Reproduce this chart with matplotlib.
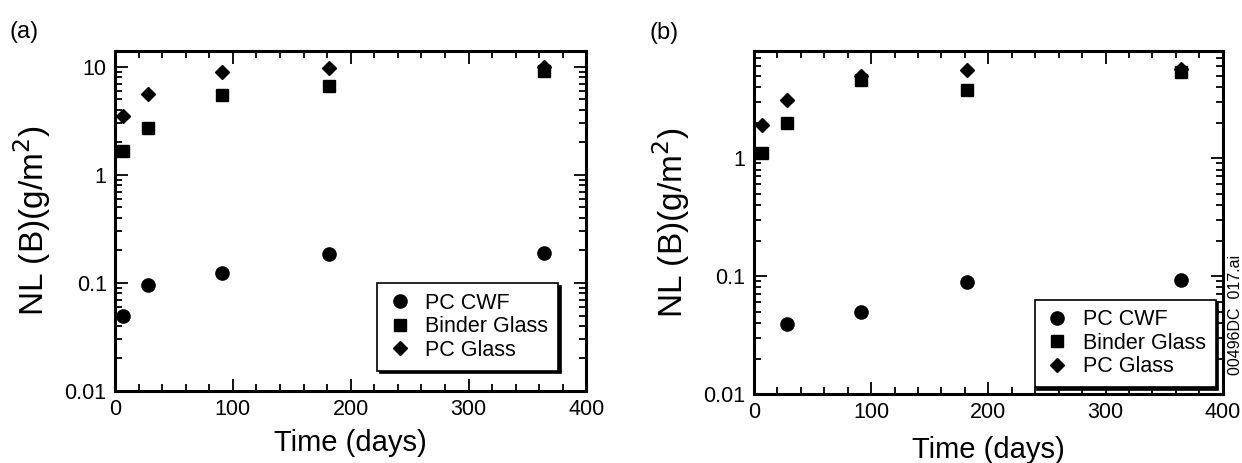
import matplotlib
matplotlib.use("Agg")
import matplotlib.pyplot as plt
from matplotlib.ticker import MultipleLocator, LogLocator, FixedLocator, NullFormatter

plt.rcParams['font.family'] = ['Liberation Sans', 'DejaVu Sans']

# Panel (a) data
days_a = [7, 28, 91, 182, 364]
cwf_a = [0.050, 0.096, 0.124, 0.184, 0.189]
binder_a = [1.68, 2.75, 5.5, 6.7, 9.2]
pcglass_a = [3.48, 5.6, 9.0, 9.7, 10.0]

# Panel (b) data
days_b_cwf = [28, 91, 182, 364]
cwf_b = [0.0394, 0.0496, 0.0884, 0.093]
days_b = [7, 28, 91, 182, 364]
binder_b = [1.10, 1.97, 4.6, 3.77, 5.35]
pcglass_b = [1.89, 3.08, 5.0, 5.53, 5.71]

series_labels = ["PC CWF", "Binder Glass", "PC Glass"]
xticks = [0, 100, 200, 300, 400]
yticks = [0.01, 0.1, 1, 10]
ytick_labels = ["0.01", "0.1", "1", "10"]

fig = plt.figure(figsize=(12.42, 4.63), dpi=100)
ax_a = fig.add_axes([0.0926, 0.1555, 0.3795, 0.734])
ax_b = fig.add_axes([0.607, 0.149, 0.3775, 0.741])


def style(ax, ymax, xpad):
    ax.set_yscale('log')
    ax.set_xlim(0, 400)
    ax.set_ylim(0.01, ymax)
    ax.xaxis.set_major_locator(FixedLocator(xticks))
    ax.xaxis.set_minor_locator(MultipleLocator(20))
    ax.yaxis.set_major_locator(FixedLocator(yticks))
    ax.set_yticklabels(ytick_labels)
    ax.set_xticklabels([str(t) for t in xticks])
    ax.yaxis.set_minor_locator(LogLocator(base=10, subs=range(2, 10)))
    ax.yaxis.set_minor_formatter(NullFormatter())
    ax.tick_params(which='both', direction='in', top=True, right=True,
                   labelsize=15.5, width=1.3, pad=6)
    ax.tick_params(which='major', length=9)
    ax.tick_params(which='minor', length=5)
    for s in ax.spines.values():
        s.set_linewidth(2.2)
    ax.set_xlabel("Time (days)", fontsize=21, labelpad=xpad)
    ax.set_ylabel("NL (B)(g/m$^2$)", fontsize=24, labelpad=8)


def plot(ax, dc, c, d, b, g):
    ax.plot(dc, c, 'o', color='black', markersize=9.5, label=series_labels[0], clip_on=False)
    ax.plot(d, b, 's', color='black', markersize=8, label=series_labels[1], clip_on=False)
    ax.plot(d, g, 'D', color='black', markersize=7, label=series_labels[2], clip_on=False)


plot(ax_a, days_a, cwf_a, days_a, binder_a, pcglass_a)
plot(ax_b, days_b_cwf, cwf_b, days_b, binder_b, pcglass_b)
style(ax_a, 14.0, 6)
style(ax_b, 8.1, 9)

for ax, anchor in [(ax_a, (0.94, 0.06)), (ax_b, (0.985, 0.02))]:
    leg = ax.legend(loc='lower right', bbox_to_anchor=anchor, fontsize=15.5,
                    frameon=True, fancybox=False, shadow={'color': 'black', 'alpha': 1},
                    handletextpad=0.6, borderpad=0.45, labelspacing=0.12,
                    handlelength=1.2, borderaxespad=0)
    fr = leg.get_frame()
    fr.set_edgecolor('black')
    fr.set_linewidth(1.2)

fig.text(0.008, 0.93, "(a)", fontsize=17, ha='left', va='center')
fig.text(0.523, 0.928, "(b)", fontsize=17, ha='left', va='center')
fig.text(0.9945, 0.32, "00496DC  017.ai", fontsize=11.5, rotation=90,
         ha='center', va='center')

fig.savefig("out.png", dpi=100)
